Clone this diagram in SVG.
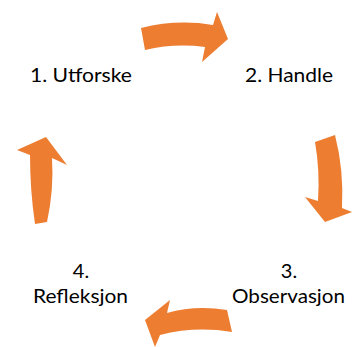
<svg xmlns="http://www.w3.org/2000/svg" width="353" height="347" viewBox="0 0 353 347">
  <style>
    .arrow { fill: #ED7D31; }
    .label { font-family: Lato, "Liberation Sans", Arial, sans-serif; font-size: 20px; fill: #000; }
  </style>
  <rect width="353" height="347" fill="#fff"/>
  <!-- curved block arrows of the cycle -->
  <g id="connectors">
    <path class="arrow" d="M141,28 Q177,19 213,25 L217,12 L228,39 L202,62 L205,47 Q175,43 145,50 Z"/>
    <path class="arrow" d="M315,142 L335,135 Q344,170 342,208 L352,212 L325,222 L305,197 L318,201 Q320,170 315,142 Z"/>
    <path class="arrow" d="M227,310 Q195,305 167,313 L170,300 L145,320 L155,347 L160,335 Q195,326 232,332 Z"/>
    <path class="arrow" d="M35,224 L47,222 Q54,190 52,158 L67,165 L46,137 L17,150 L30,155 Q30,190 35,224 Z"/>
  </g>
  <g id="step1">
    <text class="label" x="30" y="82" textLength="102" lengthAdjust="spacingAndGlyphs">1. Utforske</text>
  </g>
  <g id="step2">
    <text class="label" x="245" y="82" textLength="88" lengthAdjust="spacingAndGlyphs">2. Handle</text>
  </g>
  <g id="step3">
    <text class="label" x="289" y="278" text-anchor="middle">3.</text>
    <text class="label" x="232" y="303" textLength="113" lengthAdjust="spacingAndGlyphs">Observasjon</text>
  </g>
  <g id="step4">
    <text class="label" x="81" y="278" text-anchor="middle">4.</text>
    <text class="label" x="33" y="303" textLength="95" lengthAdjust="spacingAndGlyphs">Refleksjon</text>
  </g>
</svg>
